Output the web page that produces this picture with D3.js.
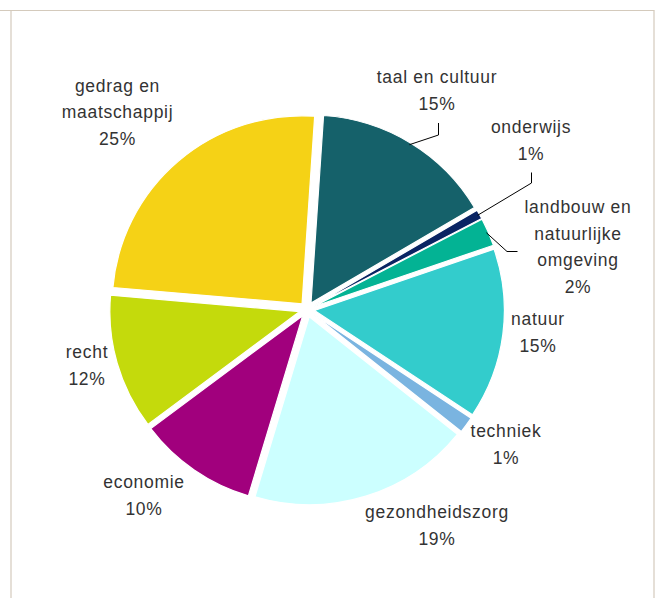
<!DOCTYPE html>
<html>
<head>
<meta charset="utf-8">
<script src="https://cdn.jsdelivr.net/npm/d3@7"></script>
<style>
  body { margin: 0; background: #fff; }
  svg { display: block; }
</style>
</head>
<body>
<script>
let width = 659;
let height = 598;

// data (percent of total)
let categories = ['taal en cultuur', 'onderwijs', 'landbouw en natuurlijke omgeving', 'natuur',
    'techniek', 'gezondheidszorg', 'economie', 'recht', 'gedrag en maatschappij'];
let values = [15.4, 0.8, 2.4, 14.6, 1.4, 18.8, 10.1, 11.6, 24.6];
let labelLines = [['taal en cultuur'], ['onderwijs'], ['landbouw en', 'natuurlijke', 'omgeving'], ['natuur'],
    ['techniek'], ['gezondheidszorg'], ['economie'], ['recht'], ['gedrag en', 'maatschappij']];

let colors = ['#15616a', '#0a2463', '#03b394', '#33cccc', '#7ab4e0', '#ccffff', '#a1007d', '#c4da0c', '#f5d216'];

// label layout: centre x, first baseline, optional leader [elbow, end]
let labelPos = [
    { x: 437, y: 83, leader: [[438.5, 135], [438.5, 123]] },
    { x: 531, y: 133, leader: [[531.5, 183], [531.5, 172.5]] },
    { x: 578, y: 213, leader: [[507, 251.5], [517.5, 251.5]] },
    { x: 538, y: 325 },
    { x: 506, y: 437 },
    { x: 437, y: 518 },
    { x: 144, y: 488 },
    { x: 87, y: 358 },
    { x: 117.5, y: 91.5 }
];

let cx = 307, cy = 309.5, radius = 188, explode = 7.5, lineH = 26.7;
let startAngle = 3.8 * Math.PI / 180;

let svg = d3.select("body").append("svg")
    .attr("width", width)
    .attr("height", height);

// frame
let frame = svg.append("g")
    .attr("stroke", "#d4cabc")
    .attr("stroke-width", 1.2)
    .attr("fill", "none");
frame.append("line").attr("x1", 0).attr("x2", 654.5).attr("y1", 10.5).attr("y2", 10.5);
frame.append("line").attr("x1", 11).attr("x2", 11).attr("y1", 10.5).attr("y2", height);
frame.append("line").attr("x1", 654).attr("x2", 654).attr("y1", 10.5).attr("y2", height);

let pie = d3.pie()
    .sort(null)
    .value(d => d)
    .startAngle(startAngle)
    .endAngle(startAngle + 2 * Math.PI);

let arc = d3.arc()
    .innerRadius(0)
    .outerRadius(radius);

let arcs = pie(values);
let total = d3.sum(values);

const offset = function (d, r) {
    let a = (d.startAngle + d.endAngle) / 2;
    return [Math.sin(a) * r, -Math.cos(a) * r];
};

// slightly wider than tall, as in the reference
let g = svg.append("g").attr("transform", `translate(${cx},${cy}) scale(1.01,1)`);

g.selectAll("path")
    .data(arcs)
    .enter()
    .append("path")
    .attr("d", arc)
    .attr("transform", d => `translate(${offset(d, explode)})`)
    .style("fill", (d, i) => colors[i])
    .style("stroke", "#fff")
    .style("stroke-width", 1.2);

// leader lines
arcs.forEach((d, i) => {
    let lp = labelPos[i];
    if (!lp.leader) return;
    let p0 = offset(d, radius + explode - 2);
    let pts = [[cx + p0[0] * 1.01, cy + p0[1]]].concat(lp.leader);
    svg.append("path")
        .attr("d", d3.line()(pts))
        .style("fill", "none")
        .style("stroke", "#000")
        .style("stroke-width", 1);
});

// labels
let labels = svg.append("g")
    .attr("font-family", "'Liberation Sans', Arial, sans-serif")
    .attr("font-size", 17.5)
    .attr("letter-spacing", 0.7)
    .attr("fill", "#333")
    .attr("text-anchor", "middle");

arcs.forEach((d, i) => {
    let lp = labelPos[i];
    let lines = labelLines[i].concat([Math.round(values[i] / total * 100) + '%']);
    let t = labels.append("text").attr("x", lp.x).attr("y", lp.y);
    lines.forEach((s, k) => {
        t.append("tspan")
            .attr("x", lp.x)
            .attr("y", lp.y + k * lineH)
            .text(s);
    });
});
</script>
</body>
</html>
